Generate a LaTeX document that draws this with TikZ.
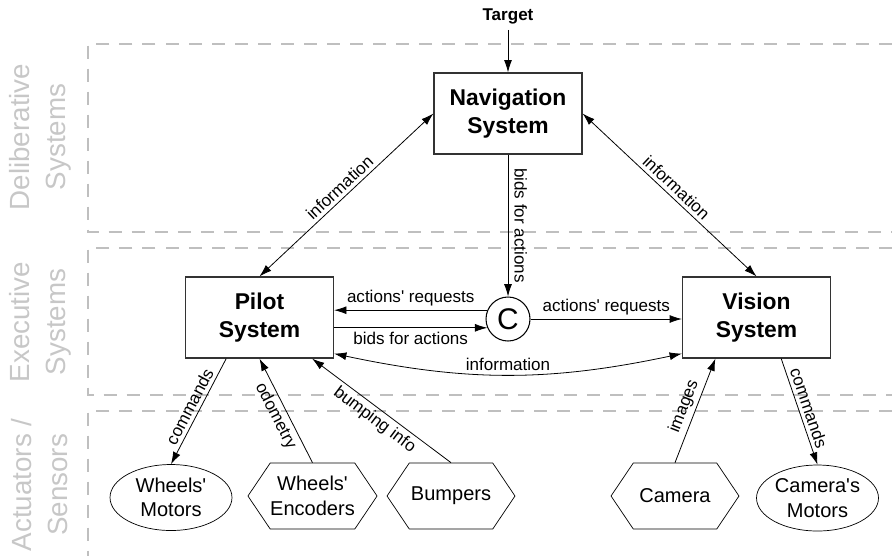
\documentclass[tikz,border=0pt]{standalone}
\usepackage{fontspec}
\setmainfont{Liberation Sans}
\usetikzlibrary{positioning,arrows.meta,shapes.geometric,shapes.symbols}
\newcommand{\apos}{\textquotesingle}

\begin{document}
\begin{tikzpicture}[x=0.02cm, y=-0.02cm]
\tikzstyle{zone}=[draw=black!25, line width=0.6pt, dash pattern=on 7.4pt off 5.7pt]
\tikzstyle{zonelbl}=[text=black!22, rotate=90, align=center, font=\fontsize{15.8}{20.5}\selectfont]
\tikzstyle{sys}=[draw=black!80, line width=0.7pt, minimum width=2.96cm, minimum height=1.62cm, align=center, font=\fontsize{13}{15.5}\selectfont\bfseries]
\tikzstyle{act}=[draw, ellipse, inner sep=0pt, minimum width=2.44cm, minimum height=1.32cm, align=center, font=\fontsize{11.4}{14}\selectfont]
\tikzstyle{sens}=[draw, signal, signal to=west and east, signal pointer angle=112, inner sep=0pt, minimum width=2.56cm, minimum height=1.32cm, align=center, font=\fontsize{11.4}{14}\selectfont]
\tikzstyle{arr}=[-{Latex[length=7pt,width=4.5pt]}, line width=0.45pt]
\tikzstyle{both}=[{Latex[length=7pt,width=4.5pt]}-{Latex[length=7pt,width=4.5pt]}, line width=0.45pt]
\tikzstyle{lbl}=[midway, inner sep=2pt, font=\fontsize{9.7}{11}\selectfont]

\useasboundingbox (0,0) rectangle (892,556);

% the three layers, open to the right
\draw[zone] (892,44) -- (88,44) -- (88,232) -- (892,232);
\draw[zone] (892,248) -- (88,248) -- (88,395) -- (892,395);
\draw[zone] (892,411) -- (88,411) -- (88,556);

\node[zonelbl] (dlbl) at (40,137) {Deliberative\\Systems};
\node[zonelbl] (elbl) at (40,322) {Executive\\Systems};
\node[zonelbl] (albl) at (40,485) {Actuators /\\Sensors};

% systems
\node[font=\fontsize{9.7}{11}\selectfont\bfseries] (target) at (508,16) {Target};
\node[sys] (nav) at (508,113.5) {Navigation\\System};
\node[sys] (pilot) at (259.5,317.5) {Pilot\\System};
\node[sys] (vision) at (756.5,317.5) {Vision\\System};
\node[draw, circle, line width=0.6pt, minimum size=0.88cm, inner sep=0pt, font=\fontsize{17}{20}\selectfont] (c) at (508,319) {C};

% sensors and actuators
\node[act] (wmot) at (171,497.5) {Wheels\apos\\Motors};
\node[sens] (wenc) at (312.5,496) {Wheels\apos\\Encoders};
\node[sens] (bump) at (451,496) {Bumpers};
\node[sens] (cam) at (675,496) {Camera};
\node[act] (cmot) at (817.5,498) {Camera\apos s\\Motors};

\draw[arr] (target) -- (nav);
\draw[both] (nav.west) -- node[lbl, sloped, above] {information} (pilot.north);
\draw[both] (nav.east) -- node[lbl, sloped, above] {information} (vision.north);
\draw[arr] (nav) -- node[lbl, rotate=-90, anchor=south, inner sep=3.5pt] {bids for actions} (c);

\draw[arr] (c.157) -- (c.157 -| pilot.east) node[lbl, above] {actions\apos{} requests};
\draw[arr] (c.203 -| pilot.east) -- node[lbl, below] {bids for actions} (c.203);
\draw[arr] (c) -- (c -| vision.west) node[lbl, above] {actions\apos{} requests};
\draw[both] ([yshift=0.1cm]pilot.south east) to[bend right=12] node[lbl, above] {information} ([yshift=0.1cm]vision.south west);

\draw[arr] (pilot.-129) -- node[lbl, sloped, above] {commands} (wmot.north);
\draw[arr] (wenc.north) -- node[lbl, sloped, below] {odometry} (pilot.south);
\draw[arr] (bump.north) -- node[lbl, sloped, below] {bumping info} (pilot.-38);
\draw[arr] (cam.north) -- node[lbl, sloped, above] {images} (vision.-135);
\draw[arr] (vision.-59) -- node[lbl, sloped, above] {commands} (cmot.north);
\end{tikzpicture}
\end{document}
